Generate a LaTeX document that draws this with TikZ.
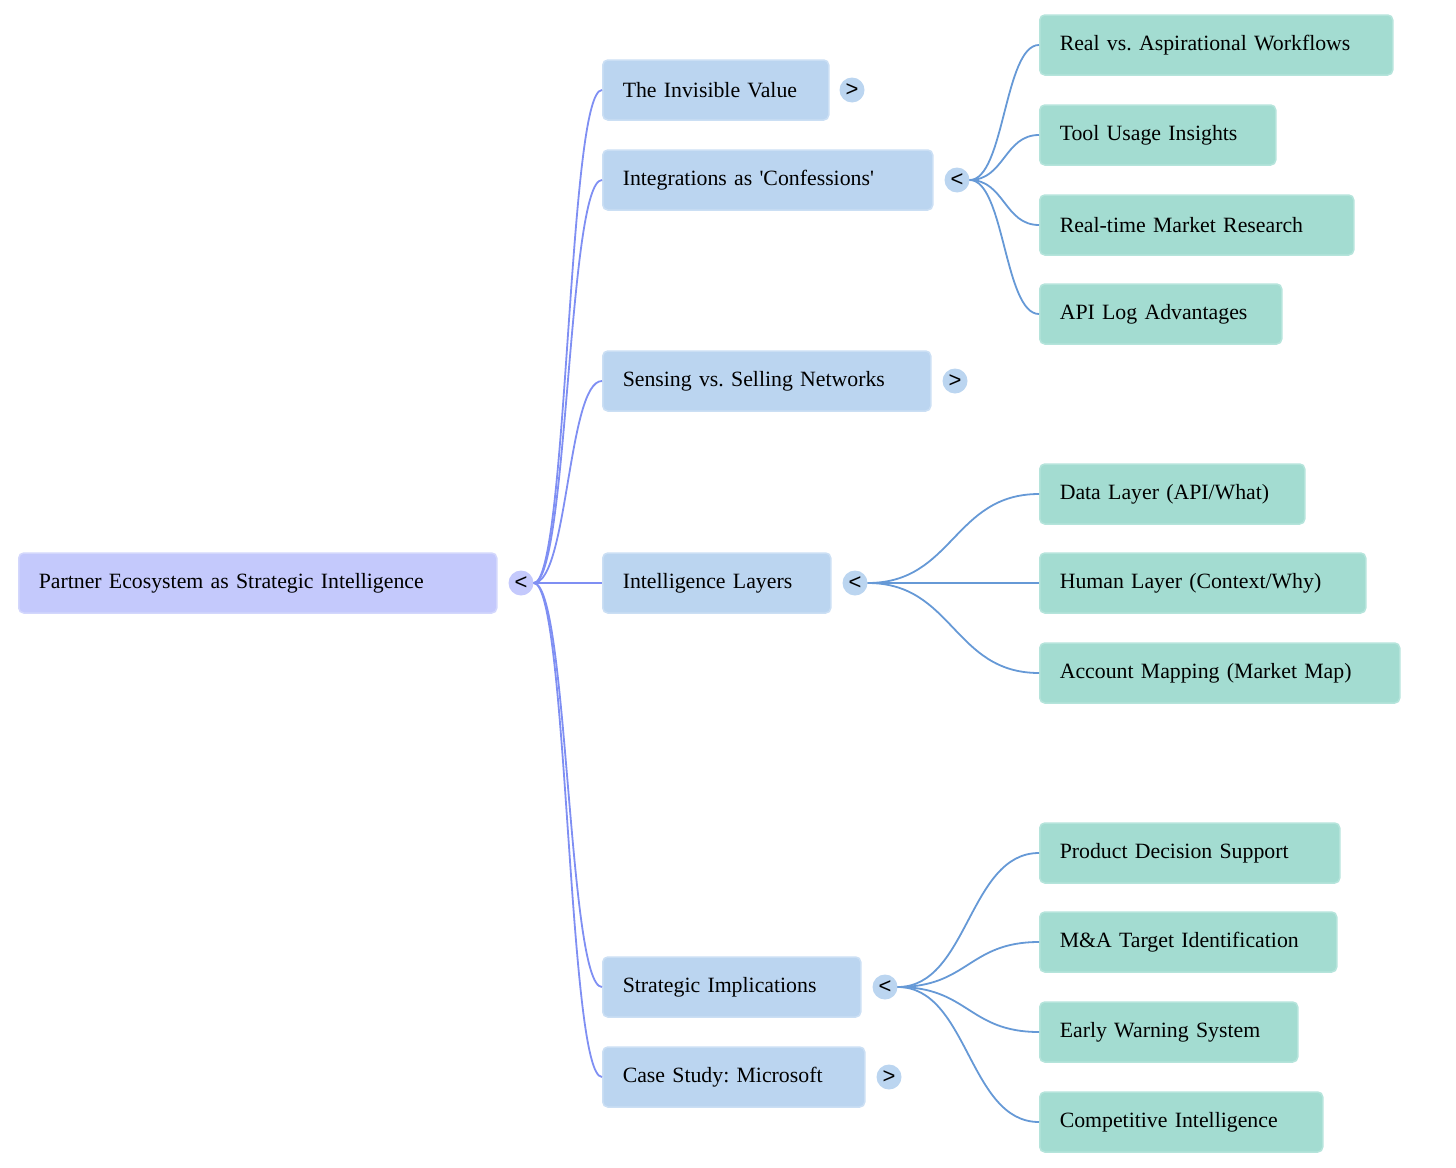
\documentclass[tikz,border=0pt]{standalone}
\usepackage{fontspec}
\setmainfont{Liberation Serif}
\newfontfamily\glyphfont{Liberation Sans}
\usetikzlibrary{calc}
\frenchspacing
\definecolor{rootfill}{HTML}{C4C9FC}
\definecolor{rootdraw}{HTML}{D3D7FC}
\definecolor{lonefill}{HTML}{BBD5F0}
\definecolor{lonedraw}{HTML}{CBDFF4}
\definecolor{ltwofill}{HTML}{A3DCD1}
\definecolor{ltwodraw}{HTML}{B5E4DB}
\definecolor{edgeone}{HTML}{7F8FF3}
\definecolor{edgetwo}{HTML}{6699D6}
\tikzset{
  box/.style={rectangle, rounded corners=5pt, anchor=west, minimum height=60pt,
    inner xsep=20pt, inner ysep=0pt, align=left, line width=1.5pt,
    font=\fontsize{21.8}{26}\selectfont},
  rootbox/.style={box, fill=rootfill, draw=rootdraw},
  onebox/.style={box, fill=lonefill, draw=lonedraw},
  twobox/.style={box, fill=ltwofill, draw=ltwodraw},
  tog/.style={circle, minimum size=25pt, inner sep=0pt, font=\glyphfont\fontsize{22}{22}\selectfont},
  rtog/.style={tog, fill=rootfill},
  otog/.style={tog, fill=lonefill},
  mm/.style={to path={let \p1=(\tikztostart), \p2=(\tikztotarget) in
      .. controls ({(\x1+\x2)/2},\y1) and ({(\x1+\x2)/2},\y2) .. (\p2)}},
  eone/.style={draw=edgeone, line width=1.8pt, mm},
  etwo/.style={draw=edgetwo, line width=1.8pt, mm},
}
\begin{document}
\begin{tikzpicture}[x=1pt,y=-1pt]
\useasboundingbox (0,0) rectangle (1456,1167);
% root
\node[rootbox, text width=438pt] (root) at (18,583) {Partner Ecosystem as Strategic Intelligence};
\node[rtog] (rc) at (521,583) {<};
% level 1
\node[onebox, text width=186pt] (a) at (602,90) {The Invisible Value};
\node[otog] (ac) at (852,90) {>};
\node[onebox, text width=290pt] (b) at (602,180) {Integrations as \textquotesingle Confessions\textquotesingle};
\node[otog] (bc) at (957,180) {<};
\node[onebox, text width=288pt] (c) at (602,381) {Sensing vs. Selling Networks};
\node[otog] (cc) at (955,381) {>};
\node[onebox, text width=188pt] (d) at (602,583) {Intelligence Layers};
\node[otog] (dc) at (855,583) {<};
\node[onebox, text width=218pt] (e) at (602,987) {Strategic Implications};
\node[otog] (ec) at (885,987) {<};
\node[onebox, text width=222pt] (f) at (602,1077) {Case Study: Microsoft};
\node[otog] (fc) at (889,1077) {>};
% level 2
\node[twobox, text width=313pt] (b1) at (1039,45) {Real vs. Aspirational Workflows};
\node[twobox, text width=196pt] (b2) at (1039,135) {Tool Usage Insights};
\node[twobox, text width=274pt] (b3) at (1039,225) {Real-time Market Research};
\node[twobox, text width=202pt] (b4) at (1039,314) {API Log Advantages};
\node[twobox, text width=225pt] (d1) at (1039,494) {Data Layer (API/What)};
\node[twobox, text width=286pt] (d2) at (1039,583) {Human Layer (Context/Why)};
\node[twobox, text width=320pt] (d3) at (1039,673) {Account Mapping (Market Map)};
\node[twobox, text width=260pt] (e1) at (1039,853) {Product Decision Support};
\node[twobox, text width=257pt] (e2) at (1039,942) {M\&A Target Identification};
\node[twobox, text width=218pt] (e3) at (1039,1032) {Early Warning System};
\node[twobox, text width=243pt] (e4) at (1039,1122) {Competitive Intelligence};
% edges
\foreach \t in {a,b,c,d,e,f} \draw[eone] (rc.east) to (\t.west);
\foreach \t in {b1,b2,b3,b4} \draw[etwo] (bc.east) to (\t.west);
\foreach \t in {d1,d2,d3} \draw[etwo] (dc.east) to (\t.west);
\foreach \t in {e1,e2,e3,e4} \draw[etwo] (ec.east) to (\t.west);
\end{tikzpicture}
\end{document}
